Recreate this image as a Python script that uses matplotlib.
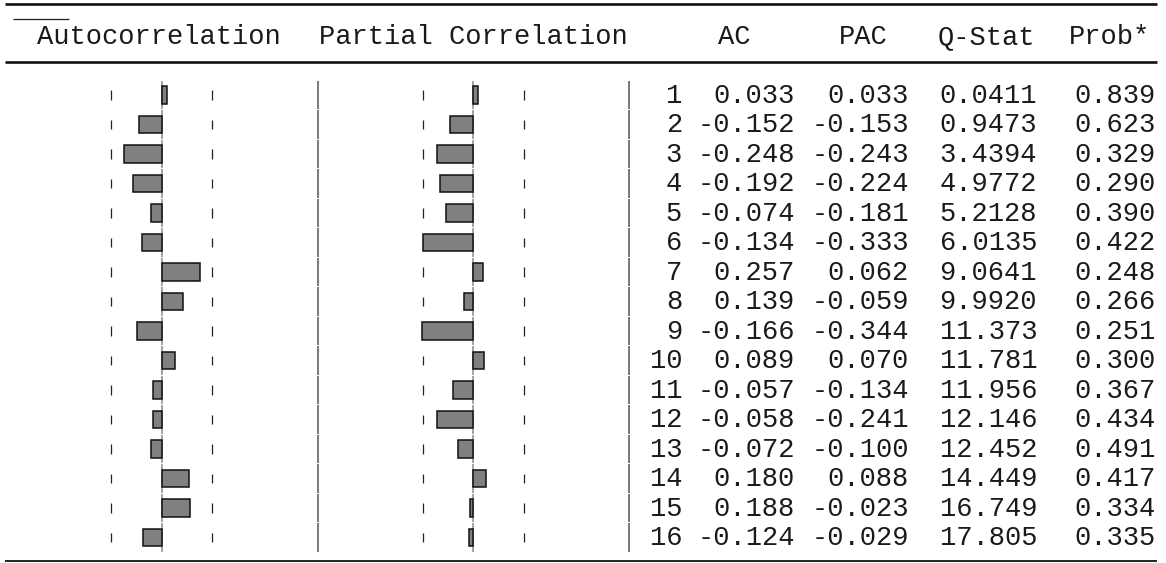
import numpy as np
import matplotlib
matplotlib.use("Agg")
import matplotlib.pyplot as plt
from matplotlib import transforms

# correlogram values, lags 1..16
lags = np.arange(1, 17)
ac = [0.033, -0.152, -0.248, -0.192, -0.074, -0.134, 0.257, 0.139,
      -0.166, 0.089, -0.057, -0.058, -0.072, 0.180, 0.188, -0.124]
pac = [0.033, -0.153, -0.243, -0.224, -0.181, -0.333, 0.062, -0.059,
       -0.344, 0.070, -0.134, -0.241, -0.100, 0.088, -0.023, -0.029]
q_stat = [0.0411, 0.9473, 3.4394, 4.9772, 5.2128, 6.0135, 9.0641, 9.9920,
          11.373, 11.781, 11.956, 12.146, 12.452, 14.449, 16.749, 17.805]
prob = [0.839, 0.623, 0.329, 0.290, 0.390, 0.422, 0.248, 0.266,
        0.251, 0.300, 0.367, 0.434, 0.491, 0.417, 0.334, 0.335]
headers = ["Autocorrelation", "Partial Correlation", "AC", "PAC", "Q-Stat", "Prob*"]
n_obs = 35
bound = 2 / np.sqrt(n_obs)

W, H = 1166, 563
FONT = "Liberation Mono"
FS = 19.5
TXT = "#1a1a1a"

# vertical layout: lag 1 sits at 95px from top, 29.5px per row
row0, step = 95.0, 29.5
lag_top = 1 - row0 / step
lag_bot = 1 + (H - row0) / step

fig = plt.figure(figsize=(W / 100, H / 100), dpi=100)
frame = fig.add_axes([0, 0, 1, 1])
frame.set_xlim(0, W)
frame.set_ylim(H, 0)
frame.axis("off")

# rules
frame.plot([5, 1157], [3.5, 3.5], color="#111", lw=1.9, solid_capstyle="butt")
frame.plot([13, 69], [19, 19], color="#222", lw=0.9, solid_capstyle="butt")
frame.plot([5, 1157], [61.5, 61.5], color="#111", lw=1.9, solid_capstyle="butt")
frame.plot([5, 1157], [561, 561], color="#111", lw=1.3, solid_capstyle="butt")

# header row
hdr_pos = [(37, "left"), (319, "left"), (750, "right"), (888, "right"),
           (1035, "right"), (1150, "right")]
for label, (x, ha) in zip(headers, hdr_pos):
    frame.text(x, 44, label, ha=ha, va="baseline", family=FONT, fontsize=FS, color=TXT)

px_per_unit = 150.0
xspan = 0.6
lo = lags - 0.475
hi = lags + 0.475


def bar_panel(zero_px, values):
    left = (zero_px - xspan * px_per_unit) / W
    width = 2 * xspan * px_per_unit / W
    a = fig.add_axes([left, 0, width, 1])
    a.set_xlim(-xspan, xspan)
    a.set_ylim(lag_bot, lag_top)
    a.axis("off")
    a.vlines(np.zeros(len(lags)), lo, hi, color="#8a8a8a", lw=1.1, zorder=1)
    for b in (-bound, bound):
        a.vlines(np.full(len(lags), b), lags - 0.16, lags + 0.16,
                 color="#222", lw=0.9, zorder=1)
    a.barh(lags, values, height=0.61, color="#808080", edgecolor="#111",
           linewidth=1.1, zorder=2)
    return a


ax_ac = bar_panel(161.7, ac)
ax_pac = bar_panel(473.3, pac)

# row text uses pixel x and lag y
tr = transforms.blended_transform_factory(frame.transData, ax_ac.transData)
for sep in (318, 629):
    frame.vlines(np.full(len(lags), sep), lo, hi, color="#555", lw=1.1, transform=tr)

for i, lag in enumerate(lags):
    y = lag + 0.27
    q = q_stat[i]
    cols = [(682, f"{lag}"), (795, f"{ac[i]:.3f}"), (909, f"{pac[i]:.3f}"),
            (1037, f"{q:.4f}" if q < 10 else f"{q:.3f}"), (1156, f"{prob[i]:.3f}")]
    for x, s in cols:
        frame.text(x, y, s, ha="right", va="baseline", family=FONT, fontsize=FS,
                   color=TXT, transform=tr)

fig.savefig("out.png", dpi=100)
